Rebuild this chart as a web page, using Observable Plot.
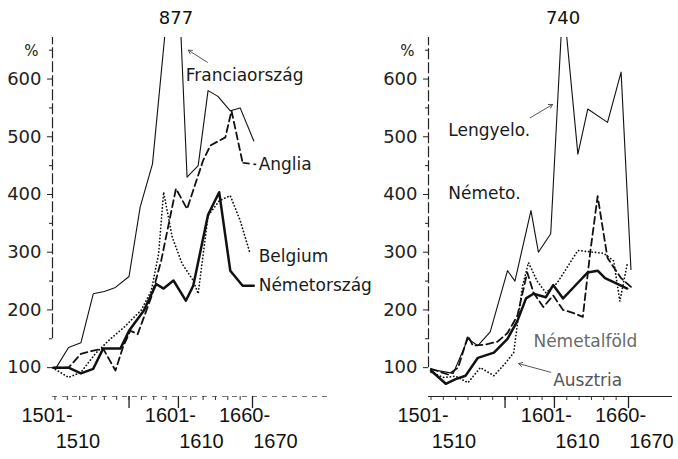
<!DOCTYPE html>
<html><head><meta charset="utf-8">
<script src="https://cdn.jsdelivr.net/npm/d3@7"></script>
<script src="https://cdn.jsdelivr.net/npm/@observablehq/plot@0.6"></script>
<style>
body{margin:0;background:#fff}
#chart{position:relative;width:678px;height:459px;background:#fff}
#chart svg{position:absolute;left:0;top:0;overflow:visible}
</style></head><body><div id="chart"></div>
<script>
// ---------- data (index, 1501-1510 = 100) ----------
// left panel
const franciaYears  = [1506,1516,1526,1536,1545,1554,1565,1574,1584,1603,1612,1621,1629,1637,1647,1655,1666];
const franciaValues = [100,135,143,228,232,239,258,378,453,877,430,450,580,570,545,550,493];
const angliaYears   = [1504,1516,1526,1537,1544,1554,1560,1566,1572,1583,1591,1603,1612,1625,1631,1643,1648,1657];
const angliaValues  = [100,100,124,130,133,95,135,164,158,222,285,410,375,459,485,499,545,455];
const belgiumYears  = [1503,1516,1526,1538,1550,1561,1575,1583,1589,1593,1600,1608,1617,1621,1629,1638,1647,1655,1663];
const belgiumValues = [100,83,92,125,150,170,200,233,298,404,326,280,251,228,363,389,398,355,298];
const nemetYears    = [1504,1516,1526,1536,1544,1558,1565,1577,1587,1593,1601,1611,1617,1629,1638,1647,1657,1666];
const nemetValues   = [100,100,90,98,133,133,164,199,245,237,251,216,242,365,404,268,242,242];
// right panel
const lengyelYears  = [1505,1523,1535,1543,1553,1567,1573,1586,1592,1602,1612,1624,1632,1648,1659,1667];
const lengyelValues = [97,90,150,138,162,268,250,372,300,332,740,470,548,525,612,270];
const nemetoYears   = [1505,1517,1525,1533,1543,1556,1567,1575,1582,1588,1598,1604,1612,1620,1632,1640,1646,1656,1664];
const nemetoValues  = [95,72,80,86,117,126,150,181,220,228,222,243,220,238,265,268,255,245,237];
const alfoldYears   = [1505,1519,1527,1535,1539,1549,1559,1567,1575,1583,1588,1596,1604,1612,1620,1628,1634,1640,1648,1659,1667];
const alfoldValues  = [98,88,100,155,138,140,145,160,190,265,230,205,225,200,195,188,300,397,290,255,240];
const ausztriaYears = [1505,1515,1525,1535,1545,1556,1565,1572,1579,1584,1591,1598,1607,1624,1645,1653,1658,1664];
const ausztriaValues= [92,83,85,74,100,86,107,126,240,282,250,230,246,303,298,285,215,280];

// axes
const xDomain = [1503, 1665];
const yDomain = [50, 672];
const yMajorTicks = [100,200,300,400,500,600];
const yMinorTicks = [150,250,350,450,550,650];
const xMinorTicks = d3.range(1505, 1666, 10);
const xMajorTicks = [1565, 1605, 1665];
const xLabelYears = [1505, 1605, 1665];
const xLabelTop    = ["1501-", "1601-", "1660-"];
const xLabelBottom = ["1510", "1610", "1670"];

// labels (text, year, value, colour)
const leftLabels = [
  {text:"Franciaország", x:1611, y:606, c:"#1a1a1a"},
  {text:"Anglia",        x:1670, y:452, c:"#1a1a1a"},
  {text:"Belgium",       x:1670, y:293, c:"#1a1a1a"},
  {text:"Németország",   x:1670, y:242, c:"#1a1a1a"}
];
const rightLabels = [
  {text:"Lengyelo.",   x:1519, y:511, c:"#1a1a1a"},
  {text:"Németo.",     x:1519, y:402, c:"#1a1a1a"},
  {text:"Németalföld", x:1588, y:145, c:"#6a6a6a"},
  {text:"Ausztria",    x:1604, y:78,  c:"#555"}
];
const leftPeak  = [{text:"877", x:1603, y:705}];
const rightPeak = [{text:"740", x:1612, y:705}];
const leftArrows  = [{x1:1628.5, y1:629, x2:1613, y2:650}];
const rightArrows = [{x1:1585.5, y1:533, x2:1603.5, y2:556}, {x1:1602, y1:92, x2:1576, y2:107}];
const leftLeaders = [{x1:1657, y1:455, x2:1668, y2:452}];

const rows = (years, values) => years.map((year, i) => ({year, value: values[i]}));

const styles = {
  thin:   {strokeWidth: 1.1},
  thick:  {strokeWidth: 2.5},
  dashed: {strokeWidth: 1.8, strokeDasharray: "7,4"},
  dotted: {strokeWidth: 1.7, strokeDasharray: "0.2,3.2", strokeLinecap: "round"}
};

function panel({left, rightEdge, axisBottom, series, labels, peak, arrows, leaders, dashedXAxis}) {
  const marks = [
    Plot.ruleX([xDomain[0]], {y1: axisBottom, y2: yDomain[1], stroke: "#222", strokeWidth: 1.2, strokeDasharray: "11,3"}),
    Plot.axisY({ticks: yMajorTicks, tickSize: 5, tickPadding: 6, fontSize: 18, fontFamily: "DejaVu Sans", fill: "#222", stroke: "#222"}),
    Plot.axisY({ticks: yMinorTicks, tickSize: 3, tickFormat: () => "", stroke: "#222"}),
    Plot.ruleY([yDomain[0]], {stroke: dashedXAxis ? "#777" : "#222", strokeWidth: 1.2, strokeDasharray: dashedXAxis ? "5,5" : null}),
    Plot.axisX({ticks: xMinorTicks, tickSize: 4, tickFormat: () => "", stroke: "#333"}),
    Plot.axisX({ticks: xMajorTicks, tickSize: 12, tickFormat: () => "", stroke: "#222", strokeWidth: 1.3}),
    Plot.text(xLabelYears, {x: d => d, text: (d, i) => xLabelTop[i], frameAnchor: "bottom", dy: 25, dx: -8, fontFamily: "Liberation Sans", fontSize: 20, fill: "#111"}),
    Plot.text(xLabelYears, {x: d => d, text: (d, i) => xLabelBottom[i], frameAnchor: "bottom", dy: 51, dx: 23, fontFamily: "Liberation Sans", fontSize: 20, fill: "#111"}),
    Plot.text(["%"], {x: xDomain[0], y: 649, text: d => d, dx: -14, textAnchor: "end", fontSize: 15, fill: "#222"}),
    ...series.map(s => Plot.line(rows(s.years, s.values), {x: "year", y: "value", stroke: "#111", strokeLinejoin: "round", clip: true, ...styles[s.style]})),
    Plot.link(leaders, {x1: "x1", y1: "y1", x2: "x2", y2: "y2", stroke: "#111", strokeWidth: 1.6, strokeDasharray: "7,4"}),
    Plot.arrow(arrows, {x1: "x1", y1: "y1", x2: "x2", y2: "y2", stroke: "#444", strokeWidth: 0.9, headLength: 7, bend: false}),
    Plot.text(peak, {x: "x", y: "y", text: "text", fontSize: 18, fill: "#111"}),
    Plot.text(labels, {x: "x", y: "y", text: "text", fill: "c", textAnchor: "start", fontSize: 17, fontFamily: "DejaVu Sans", ariaLabel: "series-label"})
  ];
  const svg = Plot.plot({
    width: 678, height: 459,
    marginLeft: left, marginRight: 678 - rightEdge, marginTop: 37, marginBottom: 63,
    x: {domain: xDomain, range: [left, left + 200]},
    y: {domain: yDomain},
    color: {type: "identity"},
    style: {background: "transparent", fontFamily: "DejaVu Sans", fontSize: "18px", color: "#222", overflow: "visible"},
    marks
  });
  d3.select(svg).selectAll('g[aria-label="series-label"] text').attr("letter-spacing", "1.6");
  return svg;
}

const chart = document.getElementById("chart");
chart.append(panel({
  left: 52, rightEdge: 330, axisBottom: 150, dashedXAxis: true,
  series: [
    {years: franciaYears, values: franciaValues, style: "thin"},
    {years: angliaYears, values: angliaValues, style: "dashed"},
    {years: belgiumYears, values: belgiumValues, style: "dotted"},
    {years: nemetYears, values: nemetValues, style: "thick"}
  ],
  labels: leftLabels, peak: leftPeak, arrows: leftArrows, leaders: leftLeaders
}));
chart.append(panel({
  left: 428, rightEdge: 672, axisBottom: 100, dashedXAxis: false,
  series: [
    {years: lengyelYears, values: lengyelValues, style: "thin"},
    {years: nemetoYears, values: nemetoValues, style: "thick"},
    {years: alfoldYears, values: alfoldValues, style: "dashed"},
    {years: ausztriaYears, values: ausztriaValues, style: "dotted"}
  ],
  labels: rightLabels, peak: rightPeak, arrows: rightArrows, leaders: []
}));
</script></body></html>
